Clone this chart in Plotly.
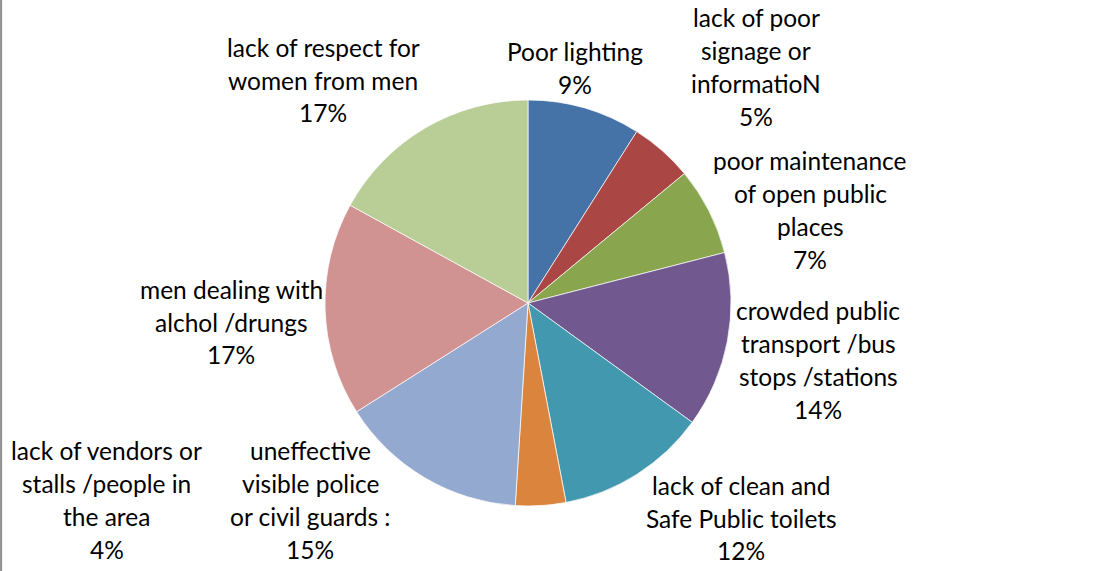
import plotly.graph_objects as go

W, H = 1102, 571

categories = [
    "Poor lighting",
    "lack of poor signage or informatioN",
    "poor maintenance of open public places",
    "crowded public transport /bus stops /stations",
    "lack of clean and Safe Public toilets",
    "lack of vendors or stalls /people in the area",
    "uneffective visible police or civil guards :",
    "men dealing with alchol /drungs",
    "lack of respect for women from men",
]
values = [9, 5, 7, 14, 12, 4, 15, 17, 17]
colors = ["#4572A7", "#AA4643", "#89A54E", "#71588F", "#4198AF",
          "#DB843D", "#93A9CF", "#D19392", "#B9CD96"]

# label line breaks (as in the original chart)
label_lines = [
    ["Poor lighting"],
    ["lack of poor", "signage or", "informatioN"],
    ["poor maintenance", "of open public", "places"],
    ["crowded public", "transport /bus", "stops /stations"],
    ["lack of clean and", "Safe Public toilets"],
    ["lack of vendors or", "stalls /people in", "the area"],
    ["uneffective", "visible police", "or civil guards :"],
    ["men dealing with", "alchol /drungs"],
    ["lack of respect for", "women from men"],
]
# label block centres in pixels (layout only)
label_pos = [(575, 68), (756, 67), (810, 210), (818, 360), (741, 518),
             (107, 500), (310, 500), (231, 322), (323, 80)]

cx, cy, R = 528, 303, 203
LINE = 32.8
FONT = dict(family="Lato, Carlito, Calibri, sans-serif", size=24.5, color="#000000")

fig = go.Figure(go.Pie(
    labels=categories,
    values=values,
    sort=False,
    direction="clockwise",
    rotation=0,
    marker=dict(colors=colors, line=dict(color="rgba(255,255,255,0.7)", width=1)),
    textinfo="none",
    hoverinfo="label+percent",
    showlegend=False,
    domain=dict(x=[(cx - R) / W, (cx + R) / W], y=[(H - cy - R) / H, (H - cy + R) / H]),
))

total = sum(values)
annotations = []
for lines, v, (px, py) in zip(label_lines, values, label_pos):
    all_lines = lines + [f"{round(100 * v / total)}%"]
    n = len(all_lines)
    for i, t in enumerate(all_lines):
        yy = py + (i - (n - 1) / 2) * LINE
        annotations.append(dict(
            text=t, x=px / W, y=1 - yy / H, xref="paper", yref="paper",
            xanchor="center", yanchor="middle", showarrow=False, font=FONT,
        ))

fig.update_layout(
    width=W, height=H,
    margin=dict(l=0, r=0, t=0, b=0),
    paper_bgcolor="white",
    plot_bgcolor="white",
    annotations=annotations,
    shapes=[dict(type="line", xref="paper", yref="paper", x0=0.001, x1=0.001, y0=0, y1=1,
                 line=dict(color="#8c8c8c", width=2))],
)

fig.write_html("out.html")
